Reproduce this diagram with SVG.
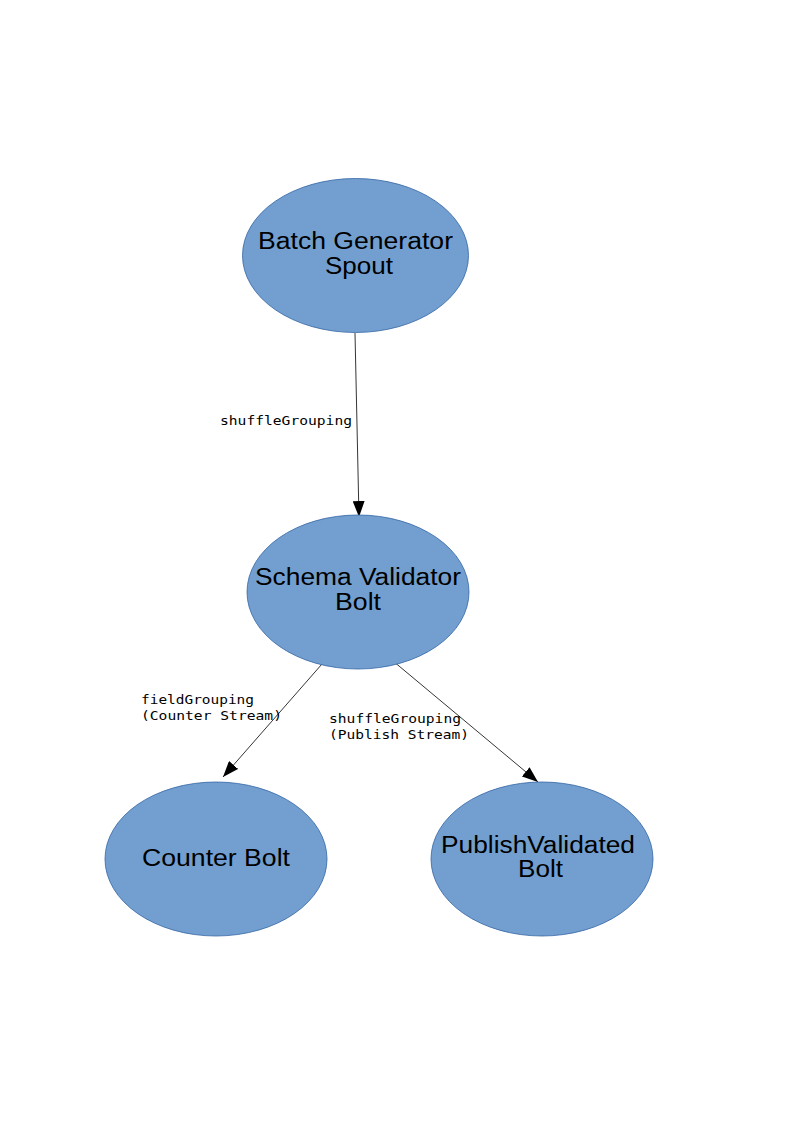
<svg xmlns="http://www.w3.org/2000/svg" width="794" height="1123" viewBox="0 0 794 1123">
<style>
.node{fill:#729fcf;stroke:#3465a4;stroke-width:0.8}
.nt{font-family:"Liberation Sans",Arial,sans-serif;font-size:23px;fill:#000;text-anchor:middle}
.el{font-family:"DejaVu Sans Mono",monospace;font-size:13px;fill:#000}
.edge{stroke:#000;stroke-width:0.8;fill:none;marker-end:url(#ah)}
</style>
<defs>
<marker id="ah" viewBox="0 0 16 12" refX="16" refY="6" markerWidth="16" markerHeight="12" markerUnits="userSpaceOnUse" orient="auto">
<path d="M0,0 L16,6 L0,12 Z" fill="#000"/>
</marker>
</defs>
<rect width="794" height="1123" fill="#fff"/>
<g id="connectors">
<line class="edge" x1="355" y1="333" x2="359" y2="517"/>
<line class="edge" x1="322" y1="664" x2="223" y2="777"/>
<line class="edge" x1="393" y1="661" x2="538" y2="782"/>
<text class="el" x="220" y="424.5" textLength="132" lengthAdjust="spacingAndGlyphs">shuffleGrouping</text>
<text class="el" x="141" y="704" textLength="113" lengthAdjust="spacingAndGlyphs">fieldGrouping</text>
<text class="el" x="141" y="720" textLength="141" lengthAdjust="spacingAndGlyphs">(Counter Stream)</text>
<text class="el" x="329" y="723" textLength="132" lengthAdjust="spacingAndGlyphs">shuffleGrouping</text>
<text class="el" x="329" y="739" textLength="140" lengthAdjust="spacingAndGlyphs">(Publish Stream)</text>
</g>
<g id="spout">
<ellipse class="node" cx="355.5" cy="255.5" rx="113" ry="77"/>
<text class="nt" x="355.5" y="248.5" textLength="195" lengthAdjust="spacingAndGlyphs">Batch Generator</text>
<text class="nt" x="359" y="273.5" textLength="68" lengthAdjust="spacingAndGlyphs">Spout</text>
</g>
<g id="validator">
<ellipse class="node" cx="358" cy="592" rx="111" ry="77"/>
<text class="nt" x="358" y="585" textLength="206" lengthAdjust="spacingAndGlyphs">Schema Validator</text>
<text class="nt" x="358" y="609.5" textLength="46" lengthAdjust="spacingAndGlyphs">Bolt</text>
</g>
<g id="counter">
<ellipse class="node" cx="216" cy="859" rx="111" ry="77"/>
<text class="nt" x="216" y="866" textLength="148" lengthAdjust="spacingAndGlyphs">Counter Bolt</text>
</g>
<g id="publish">
<ellipse class="node" cx="542" cy="859" rx="111" ry="77"/>
<text class="nt" x="538" y="853" textLength="194" lengthAdjust="spacingAndGlyphs">PublishValidated</text>
<text class="nt" x="540.5" y="876.5" textLength="45" lengthAdjust="spacingAndGlyphs">Bolt</text>
</g>
</svg>
